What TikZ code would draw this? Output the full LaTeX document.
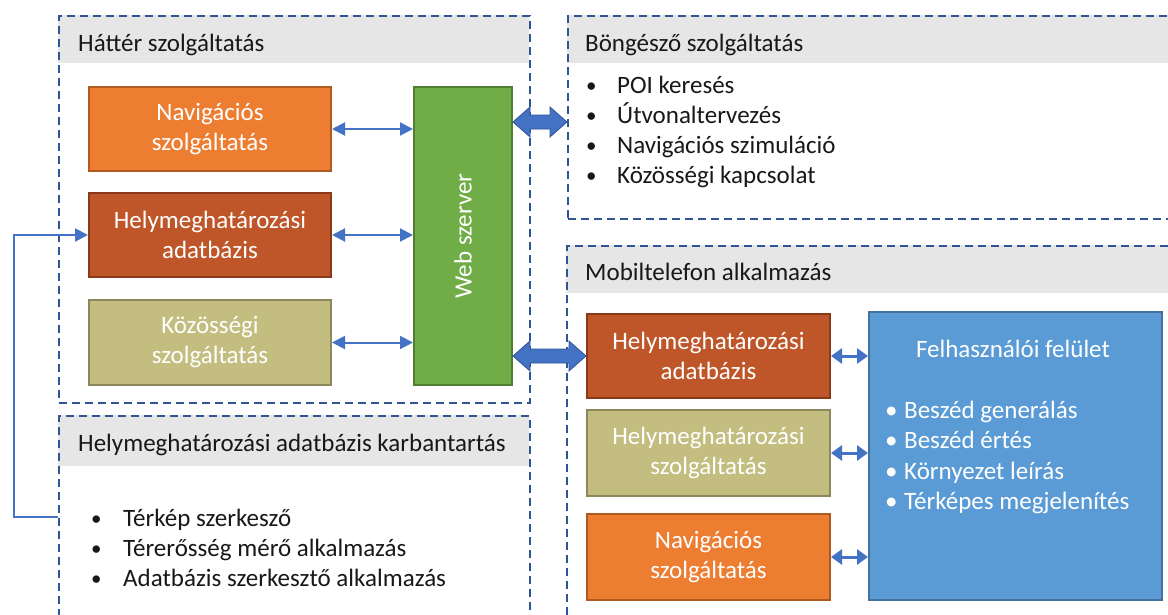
\documentclass[tikz,border=0pt]{standalone}
\usepackage{fontspec}
\setmainfont{Carlito}
\usetikzlibrary{arrows.meta,calc}

\definecolor{frameblue}{RGB}{47,85,151}
\definecolor{headgray}{RGB}{230,230,230}
\definecolor{navorange}{RGB}{237,125,49}
\definecolor{navorangeb}{RGB}{174,90,33}
\definecolor{rust}{RGB}{191,86,41}
\definecolor{rustb}{RGB}{138,58,24}
\definecolor{khaki}{RGB}{196,189,128}
\definecolor{khakib}{RGB}{140,135,92}
\definecolor{webgreen}{RGB}{112,173,71}
\definecolor{webgreenb}{RGB}{80,126,50}
\definecolor{uiblue}{RGB}{91,155,213}
\definecolor{uiblueb}{RGB}{65,113,156}
\definecolor{arrowblue}{RGB}{68,114,196}
\definecolor{txt}{RGB}{24,24,24}

% small list bullet
\newcommand\lbul{\raisebox{0.5pt}{\fontsize{21}{21}\selectfont •}}

% double-headed block arrow between two points at the same height
\newcommand\fatarrow[3]{%
  \path[#1] let \p1=(#2), \p2=(#3) in
    (\x1,\y1) -- ++(17pt,15pt) -- ++(0,-8pt) -- (\x2-17pt,\y1+7pt) -- ++(0,8pt)
    -- (\x2,\y1) -- ++(-17pt,-15pt) -- ++(0,8pt) -- (\x1+17pt,\y1-7pt)
    -- ++(0,-8pt) -- cycle;}

\tikzset{
  frame/.style={rectangle, draw=frameblue, line width=2.1pt,
    dash pattern=on 8pt off 5pt, anchor=north west, inner sep=0pt},
  header/.style={rectangle, fill=headgray, anchor=north west, inner sep=0pt,
    minimum height=48pt},
  title/.style={anchor=base west, text=txt, inner sep=0pt},
  item/.style={anchor=base west, text=txt, inner sep=0pt},
  box/.style={rectangle, line width=2pt, anchor=north west, inner sep=0pt,
    text=white, align=center},
  navbox/.style={box, fill=navorange, draw=navorangeb},
  rustbox/.style={box, fill=rust, draw=rustb},
  khakibox/.style={box, fill=khaki, draw=khakib},
  link/.style={draw=arrowblue, line width=2pt,
    {Triangle[length=13pt,width=13pt]}-{Triangle[length=13pt,width=13pt]}},
  shortlink/.style={draw=arrowblue, line width=3pt,
    {Triangle[length=11pt,width=15pt]}-{Triangle[length=11pt,width=15pt]}},
  feedback/.style={draw=arrowblue, line width=2pt, -{Triangle[length=13pt,width=13pt]}},
  fatbody/.style={fill=arrowblue, draw=frameblue, line width=0.8pt, line join=miter},
  fatshadow/.style={fill=black, opacity=0.22, shift={(2pt,-3pt)}},
}

\begin{document}
\begin{tikzpicture}[x=1pt, y=-1pt, font=\fontsize{25}{30}\selectfont]
\useasboundingbox (0,0) rectangle (1168,614);
\fill[white] (0,0) rectangle (1168,614);
\clip (0,0) rectangle (1168,614);

% ---- group frames with grey header bars
\node[header, minimum width=471pt] (bgh) at (58,15) {};
\node[frame, minimum width=471pt, minimum height=387pt] (bg) at (58,15) {};
\node[title] (bgt) at (78,51) {Háttér szolgáltatás};

\node[header, minimum width=640pt] (broh) at (567,15) {};
\node[frame, minimum width=640pt, minimum height=203pt] (bro) at (567,15) {};
\node[title] (brot) at (585,51) {Böngésző szolgáltatás};

\node[header, minimum width=640pt] (mobh) at (566,245) {};
\node[frame, minimum width=640pt, minimum height=400pt] (mob) at (566,245) {};
\node[title] (mobt) at (585,280) {Mobiltelefon alkalmazás};

\node[header, minimum width=471pt, minimum height=51pt] (karbh) at (58,415) {};
\node[frame, minimum width=471pt, minimum height=230pt] (karb) at (58,415) {};
\node[title] (karbt) at (78,451) {Helymeghatározási adatbázis karbantartás};

% ---- bullet lists
\foreach \t [count=\i] in {POI keresés, Útvonaltervezés, Navigációs szimuláció, Közösségi kapcsolat}
  \node[item] (bl\i) at (586,{93+30*(\i-1)}) {\makebox[31pt][l]{\lbul}\t};

\foreach \t [count=\i] in {Térkép szerkesző, Térerősség mérő alkalmazás, Adatbázis szerkesztő alkalmazás}
  \node[item] (kl\i) at (91,{526+30*(\i-1)}) {\makebox[32pt][l]{\lbul}\t};

% ---- back-end services
\node[navbox, minimum width=242pt, minimum height=84pt] (nav) at (88,86) {Navigációs\\szolgáltatás};
\node[rustbox, minimum width=242pt, minimum height=84pt] (hdb) at (88,192) {Helymeghatározási\\adatbázis};
\node[khakibox, minimum width=242pt, minimum height=85pt] (kozo) at (88,299) {Közösségi\\szolgáltatás};
\node[box, fill=webgreen, draw=webgreenb, minimum width=98pt, minimum height=298pt] (web) at (413,86) {};
\node[text=white, rotate=90, inner sep=0pt] (webt) at (web.center) {Web szerver};

% ---- mobile application
\node[rustbox, minimum width=243pt, minimum height=84pt] (mdb) at (586,313) {Helymeghatározási\\adatbázis};
\node[khakibox, minimum width=243pt, minimum height=86pt] (msz) at (586,409) {Helymeghatározási\\szolgáltatás};
\node[navbox, minimum width=243pt, minimum height=86pt] (mnav) at (586,513) {Navigációs\\szolgáltatás};
\node[box, fill=uiblue, draw=uiblueb, minimum width=293pt, minimum height=288pt] (ui) at (868,311) {};
\node[text=white, inner sep=0pt, anchor=base] (uit) at (1013,357) {Felhasználói felület};
\foreach \t [count=\i] in {Beszéd generálás, Beszéd értés, Környezet leírás, Térképes megjelenítés}
  \node[item, text=white] (ul\i) at (885,{418+30.5*(\i-1)}) {\makebox[19pt][l]{•}\t};

% ---- connectors
\draw[link] (nav.east) -- (nav.east -| web.west);
\draw[link] (hdb.east) -- (hdb.east -| web.west);
\draw[link] (kozo.east) -- (kozo.east -| web.west);

\draw[shortlink] (mdb.east) -- (mdb.east -| ui.west);
\draw[shortlink] (msz.east) -- (msz.east -| ui.west);
\draw[shortlink] (mnav.east) -- (mnav.east -| ui.west);

\coordinate (fb) at (karb.west |- 0,517);
\draw[feedback] (fb) -- ++(-44,0) |- (hdb.west);

\coordinate (t1) at ([yshift=-36pt]web.north east);
\coordinate (t2) at (bro.west |- t1);
\fatarrow{fatshadow}{t1}{t2}
\fatarrow{fatbody}{t1}{t2}

\coordinate (m1) at (web.east |- mdb.west);
\fatarrow{fatshadow}{m1}{mdb.west}
\fatarrow{fatbody}{m1}{mdb.west}
\end{tikzpicture}
\end{document}
